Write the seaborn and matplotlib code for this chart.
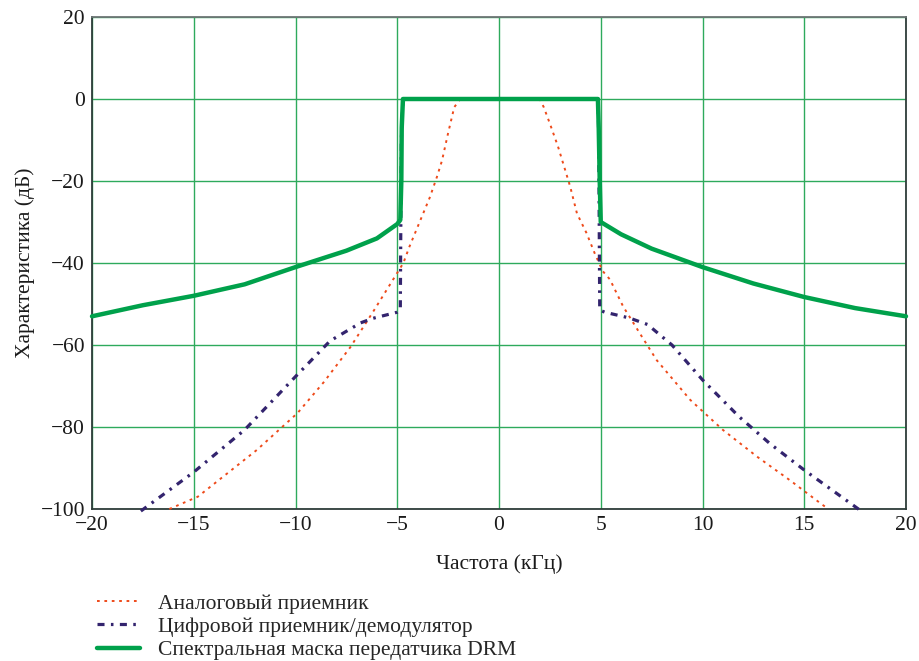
import matplotlib
matplotlib.use("Agg")
import matplotlib.pyplot as plt
import seaborn as sns
import pandas as pd

# ---- data ----
analog_x = [-16.2, -14.8, -11.9, -9.9, -8.6, -7.3, -6.2, -5.2, -4.7, -4.4, -3.8, -3.4, -3.05, -2.8, -2.5, -2.2, -1.9,
            2.0, 2.2, 2.5, 2.9, 3.25, 3.5, 3.83, 4.3, 4.7, 5.1, 5.45, 6.1, 6.9, 7.75, 9.4, 11.0, 12.7, 14.3, 15.9, 16.2]
analog_y = [-100, -97, -85.6, -76.6, -69, -60.5, -52, -44, -40, -36, -28.8, -24, -19, -15, -8.3, -2, 0,
            0, -2, -6, -11.6, -17.3, -21.4, -27.9, -32.7, -37.6, -42, -44, -50.6, -57, -63.7, -73.4, -80.7, -87.3, -93, -99, -100]

digital_x = [-17.6, -15, -12.5, -10, -8.3, -6.8, -6.2, -5.0, -4.85, -4.8, -4.72,
             4.87, 4.9, 4.95, 5.2, 6.4, 7.3, 8.5, 10, 11.8, 13.3, 15, 17.8]
digital_y = [-100.5, -91, -80.7, -67.7, -59, -54.6, -53.5, -52, -51.5, -10, 0,
             0, -10, -51.5, -52, -53.4, -55, -60, -68.5, -77.5, -84, -90.5, -100.5]

mask_x = [-20, -17.5, -15, -12.5, -10, -7.5, -6, -5, -4.85, -4.8, -4.78, -4.72,
          4.86, 4.9, 4.95, 5.0, 5.5, 6, 7.5, 10, 12.5, 15, 17.5, 20]
mask_y = [-53, -50.3, -48, -45.2, -41, -37, -34, -30.5, -29.5, -20, -7, 0,
          0, -7, -20, -30, -31.5, -33, -36.5, -41, -45, -48.3, -51, -53]

labels = ["Аналоговый приемник", "Цифровой приемник/демодулятор", "Спектральная маска передатчика DRM"]
x_ticks = [-20, -15, -10, -5, 0, 5, 10, 15, 20]
y_ticks = [-100, -80, -60, -40, -20, 0, 20]

sns.set_theme(style="white")
plt.rcParams['font.family'] = ['Liberation Serif', 'DejaVu Serif']
plt.rcParams['axes.unicode_minus'] = True

FS = 15.5
fig = plt.figure(figsize=(9.19, 6.61), dpi=100)
ax = fig.add_axes([92/919, 1-509/661, (906-92)/919, (509-17)/661])

df_a = pd.DataFrame({"x": analog_x, "y": analog_y})
df_d = pd.DataFrame({"x": digital_x, "y": digital_y})
df_m = pd.DataFrame({"x": mask_x, "y": mask_y})

sns.lineplot(data=df_a, x="x", y="y", sort=False, ax=ax, color="#ee4a1a", lw=1.4,
             label=labels[0], estimator=None)
sns.lineplot(data=df_d, x="x", y="y", sort=False, ax=ax, color="#33246e", lw=2.3,
             label=labels[1], estimator=None)
sns.lineplot(data=df_m, x="x", y="y", sort=False, ax=ax, color="#00a14b", lw=3.2,
             label=labels[2], estimator=None)
lines = ax.get_lines()
lines[0].set_dashes([1.4, 2.4])
lines[1].set_dashes([2.2, 2.0, 0.8, 2.0])
for l in lines:
    l.set_clip_on(False)
    l.set_zorder(3)

ax.set_xlim(-20, 20)
ax.set_ylim(-100, 20)
ax.set_xticks(x_ticks)
ax.set_yticks(y_ticks)
ax.grid(True, color="#2eaa5c", lw=1.0)
ax.set_axisbelow(True)
for s in ax.spines.values():
    s.set_color("#2f3d3a")
    s.set_linewidth(1.3)
ax.spines['top'].set_color("#6d7575")
ax.tick_params(axis='both', length=0, labelsize=FS, colors="#1a1a1a", pad=5)
ax.set_xlabel("Частота (кГц)", fontsize=FS, color="#1a1a1a", labelpad=14)
ax.set_ylabel("Характеристика (дБ)", fontsize=FS, color="#1a1a1a", labelpad=4)

handles, labs = ax.get_legend_handles_labels()
ax.get_legend().remove()
fig.legend(handles, labs, loc="upper left", bbox_to_anchor=(0.096, 0.115), frameon=False,
           fontsize=FS, handlelength=2.0, handletextpad=0.85, labelspacing=0.15, borderaxespad=0.0)

fig.savefig("out.png", dpi=100)
